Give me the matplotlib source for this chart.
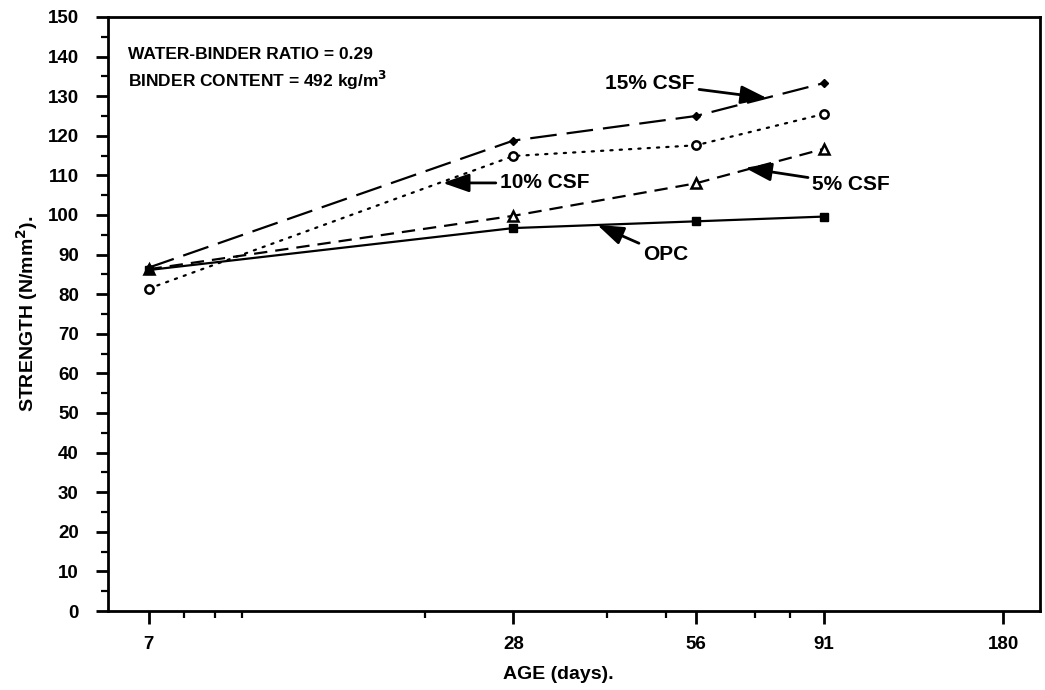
import matplotlib
matplotlib.use("Agg")
import matplotlib.pyplot as plt
from matplotlib.ticker import FixedLocator, NullFormatter

plt.rcParams['font.family'] = ['Liberation Sans', 'DejaVu Sans']

# Compressive strength development (N/mm^2) vs age (days)
ages = [7, 28, 56, 91]
opc = [86.1, 96.7, 98.4, 99.6]
csf5 = [86.3, 99.8, 108.0, 116.7]
csf10 = [81.4, 114.9, 117.6, 125.5]
csf15 = [86.7, 118.8, 125.0, 133.3]

xticks = [7, 28, 56, 91, 180]
xminor = [8, 9, 10, 20, 40, 50, 70, 80]

fig = plt.figure(figsize=(10.45, 6.9), dpi=100)
ax = fig.add_axes([108 / 1045, 1 - 611 / 690, (1040 - 108) / 1045, (611 - 17) / 690])

lw = 1.6
ax.plot(ages, csf15, color='black', lw=lw, dashes=(12, 4.5), marker='D', ms=4,
        mfc='black', mec='black')
ax.plot(ages, csf10, color='black', lw=lw, dashes=(1, 3.2), dash_capstyle='round',
        marker='o', ms=6, mfc='white', mec='black', mew=1.8)
ax.plot(ages, csf5, color='black', lw=lw, dashes=(6, 3.6), marker='^', ms=6.5,
        mfc='white', mec='black', mew=1.8)
ax.plot(ages, opc, color='black', lw=lw, linestyle='-', marker='s', ms=6,
        mfc='black', mec='black')

ax.set_xscale('log')
ax.set_xlim(6.0, 207)
ax.set_ylim(0, 150)

ax.xaxis.set_major_locator(FixedLocator(xticks))
ax.set_xticklabels([str(v) for v in xticks])
ax.xaxis.set_minor_locator(FixedLocator(xminor))
ax.xaxis.set_minor_formatter(NullFormatter())

ax.set_yticks(range(0, 151, 10))
ax.yaxis.set_minor_locator(FixedLocator(range(5, 150, 10)))

ax.tick_params(axis='both', which='major', direction='out', length=9, width=2,
               labelsize=13.5)
ax.tick_params(axis='both', which='minor', direction='out', length=5, width=1.6)
ax.tick_params(axis='y', which='major', pad=12)
ax.tick_params(axis='x', which='major', pad=9)
for lbl in ax.get_xticklabels() + ax.get_yticklabels():
    lbl.set_fontweight('bold')

for sp in ax.spines.values():
    sp.set_linewidth(2)

ax.set_xlabel('AGE (days).', fontsize=14, fontweight='bold')
ax.xaxis.set_label_coords(0.483, -0.093)
ax.set_ylabel('STRENGTH (N/mm$^\\mathbf{2}$).', fontsize=14, fontweight='bold')
ax.yaxis.set_label_coords(-0.073, 0.5)

ax.text(0.021, 0.937, 'WATER-BINDER RATIO = 0.29', transform=ax.transAxes,
        fontsize=12.5, fontweight='bold', va='center', ha='left')
ax.text(0.021, 0.893, 'BINDER CONTENT = 492 kg/m$^\\mathbf{3}$', transform=ax.transAxes,
        fontsize=12.5, fontweight='bold', va='center', ha='left')

arrow = dict(arrowstyle='-|>,head_length=0.8,head_width=0.28', color='black', lw=2,
             shrinkA=1, shrinkB=0, mutation_scale=20)
lab = dict(fontsize=15, fontweight='bold', va='center')
ax.annotate('15% CSF', xy=(73.4, 129.5), xytext=(55.8, 133.3), ha='right',
            arrowprops=arrow, **lab)
ax.annotate('10% CSF', xy=(21.4, 108.1), xytext=(26.6, 108.1), ha='left',
            arrowprops=arrow, **lab)
ax.annotate('5% CSF', xy=(67.5, 111.9), xytext=(87.1, 107.8), ha='left',
            arrowprops=arrow, **lab)
ax.annotate('OPC', xy=(38.5, 97.5), xytext=(45.8, 89.9), ha='left',
            arrowprops=arrow, **lab)

fig.savefig('out.png', dpi=100)
